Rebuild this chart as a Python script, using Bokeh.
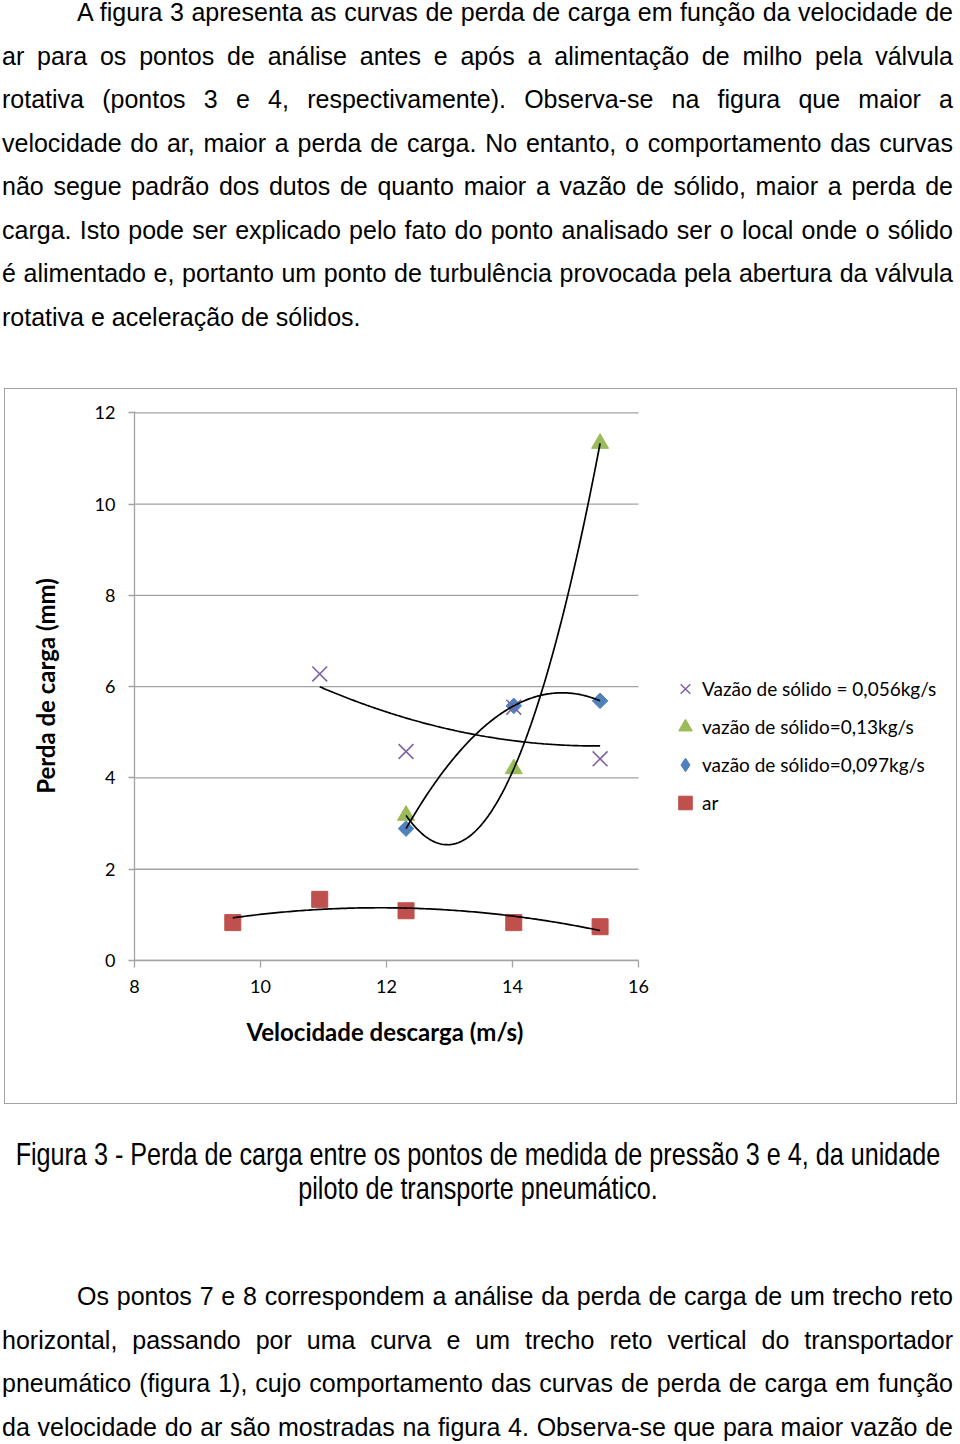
import numpy as np
from bokeh.plotting import figure
from bokeh.models import Range1d, FixedTicker, Legend, LegendItem, Div, Title
from bokeh.layouts import column
from bokeh.embed import file_html
from bokeh.resources import INLINE

# ---------------- data ----------------
vel_056 = [10.94, 12.31, 14.02, 15.39]
perda_056 = [6.28, 4.58, 5.55, 4.42]
vel_013 = [12.31, 14.02, 15.39]
perda_013 = [3.18, 4.20, 11.33]
vel_097 = [12.31, 14.02, 15.39]
perda_097 = [2.89, 5.58, 5.69]
vel_ar = [9.56, 10.94, 12.31, 14.02, 15.39]
perda_ar = [0.83, 1.34, 1.09, 0.83, 0.74]

x_ticks = [8, 10, 12, 14, 16]
y_ticks = [0, 2, 4, 6, 8, 10, 12]

labels = ["Vazão de sólido = 0,056kg/s", "vazão de sólido=0,13kg/s",
          "vazão de sólido=0,097kg/s", "ar"]
x_title = "Velocidade descarga (m/s)"
y_title = "Perda de carga (mm)"

top_lines = [
    "A figura 3 apresenta as curvas de perda de carga em função da velocidade de",
    "ar para os pontos de análise antes e após a alimentação de milho pela válvula",
    "rotativa (pontos 3 e 4, respectivamente). Observa-se na figura que maior a",
    "velocidade do ar, maior a perda de carga. No entanto, o comportamento das curvas",
    "não segue padrão dos dutos de quanto maior a vazão de sólido, maior a perda de",
    "carga. Isto pode ser explicado pelo fato do ponto analisado ser o local onde o sólido",
    "é alimentado e, portanto um ponto de turbulência provocada pela abertura da válvula",
    "rotativa e aceleração de sólidos.",
]
caption_lines = [
    "Figura 3 - Perda de carga entre os pontos de medida de pressão 3 e 4, da unidade",
    "piloto de transporte pneumático.",
]
bottom_lines = [
    "Os pontos 7 e 8 correspondem a análise da perda de carga de um trecho reto",
    "horizontal, passando por uma curva e um trecho reto vertical do transportador",
    "pneumático (figura 1), cujo comportamento das curvas de perda de carga em função",
    "da velocidade do ar são mostradas na figura 4. Observa-se que para maior vazão de",
]

# ---------------- styles ----------------
BODY_FONT = "'Liberation Sans', Arial, sans-serif"
LINE_STEP = 43.57
GRAY = "#a3a3a3"
C_X, C_TRI, C_DIA, C_SQ = "#8064A2", "#9BBB59", "#4F81BD", "#C0504D"
X_VIEW_END = 20.952   # the plotting area reaches under the legend (no axis there)
Y_VIEW_END = 12.03


def paragraph(lines, first_top, indent_first=True, last_justified=False):
    parts = []
    for k, line in enumerate(lines):
        left = 77 if (k == 0 and indent_first) else 2
        width = 953 - left
        last = (k == len(lines) - 1) and not last_justified
        align = "left" if last else "justify"
        parts.append(
            f'<div style="position:absolute;left:{left}px;top:{first_top + k*LINE_STEP:.2f}px;'
            f'width:{width}px;font-family:{BODY_FONT};font-size:25px;line-height:30px;'
            f'color:#000;white-space:nowrap;text-align:{align};text-align-last:{align};">'
            f'{line}</div>')
    return "".join(parts)


top_html = ('<div style="position:relative;width:960px;height:388px;overflow:visible;">'
            + paragraph(top_lines, -3.0) + '</div>')

cap_parts = []
for k, line in enumerate(caption_lines):
    cap_parts.append(
        f'<div style="position:absolute;left:478px;top:{34.9 + k*34:.1f}px;'
        f'white-space:nowrap;font-family:{BODY_FONT};font-size:30.7px;line-height:31px;'
        f'color:#000;transform:translateX(-50%) scaleX(0.82);transform-origin:50% 50%;">'
        f'{line}</div>')
# frame box of the chart (drawn from the block below, reaching up over the chart)
box = (f'<div style="position:absolute;left:4px;top:-716px;width:953px;height:716px;'
       f'box-sizing:border-box;border:1.6px solid {GRAY};pointer-events:none;"></div>')
bottom_html = ('<div style="position:relative;width:960px;height:340px;overflow:visible;">'
               + box + "".join(cap_parts)
               + paragraph(bottom_lines, 177.0, last_justified=True) + '</div>')

div_top = Div(text=top_html, width=960, height=388, margin=0)
div_bottom = Div(text=bottom_html, width=960, height=340, margin=0,
                 styles={"overflow": "visible"})

# ---------------- chart ----------------
p = figure(width=953, height=716, x_range=Range1d(8, X_VIEW_END), y_range=Range1d(0, Y_VIEW_END),
           output_backend="svg", toolbar_location=None,
           min_border_left=130, min_border_right=7, min_border_top=23, min_border_bottom=144)
p.margin = (0, 0, 0, 4)
p.outline_line_color = None
p.background_fill_color = "white"
p.border_fill_color = "white"

p.xaxis.ticker = FixedTicker(ticks=x_ticks)
p.yaxis.ticker = FixedTicker(ticks=y_ticks)
p.xaxis.bounds = (x_ticks[0], x_ticks[-1])
for ax in (p.xaxis[0], p.yaxis[0]):
    ax.axis_line_color = GRAY
    ax.axis_line_width = 1.3
    ax.major_tick_line_color = GRAY
    ax.major_tick_line_width = 1.3
    ax.minor_tick_line_color = None
    ax.major_tick_in = 0
    ax.major_label_text_font = "Lato"
    ax.major_label_text_font_size = "18px"
    ax.major_label_text_color = "#000000"
    ax.axis_label_text_font = "Lato"
    ax.axis_label_text_font_style = "bold"
    ax.axis_label_text_font_size = "24px"
    ax.axis_label_text_color = "#000000"
p.xaxis.major_tick_out = 7
p.yaxis.major_tick_out = 6
p.xaxis.major_label_standoff = 12
p.yaxis.major_label_standoff = 13
p.yaxis.axis_label = y_title
p.yaxis.axis_label_standoff = 32

# x-axis title, centred under the 8..16 axis (the plotting area runs on under the legend)
p.add_layout(Title(text=x_title, align="left", offset=112, standoff=39,
                   text_font="Lato", text_font_style="bold", text_font_size="24px",
                   text_color="#000000"), "below")

# horizontal gridlines, only across the axis extent
p.xgrid.visible = False
p.ygrid.visible = False
p.segment(x0=x_ticks[0], x1=x_ticks[-1], y0=y_ticks, y1=y_ticks,
          line_color=GRAY, line_width=1.3)

# markers
r_sq = p.scatter(vel_ar, perda_ar, marker="square", size=16, fill_color=C_SQ, line_color=C_SQ)
# plain diamond (hidden under the square diamonds) - gives the legend its diamond glyph
r_dia_leg = p.scatter(vel_097, perda_097, marker="diamond", size=12, fill_color=C_DIA, line_color=C_DIA)
r_dia = p.scatter(vel_097, perda_097, marker="square", angle=np.pi / 4, size=11,
                  fill_color=C_DIA, line_color=C_DIA)
r_tri = p.scatter(vel_013, perda_013, marker="triangle", size=17, fill_color=C_TRI, line_color=C_TRI)
r_x = p.scatter(vel_056, perda_056, marker="x", size=21, line_color=C_X, line_width=1.6)


# polynomial (order 2) trendlines, fitted to each series
def trend(xs, ys):
    c = np.polyfit(xs, ys, 2)
    xx = np.linspace(min(xs), max(xs), 150)
    return xx, np.polyval(c, xx)


for xs, ys in ((vel_056, perda_056), (vel_013, perda_013), (vel_097, perda_097), (vel_ar, perda_ar)):
    tx, ty = trend(xs, ys)
    p.line(tx, ty, line_color="black", line_width=1.7)

legend = Legend(items=[LegendItem(label=labels[0], renderers=[r_x]),
                       LegendItem(label=labels[1], renderers=[r_tri]),
                       LegendItem(label=labels[2], renderers=[r_dia_leg]),
                       LegendItem(label=labels[3], renderers=[r_sq])],
                location=(534, 140.5), orientation="vertical",
                glyph_width=34, glyph_height=35, label_height=35, label_standoff=0,
                spacing=3, padding=0, margin=0, border_line_color=None,
                background_fill_alpha=0, label_text_font="Lato",
                label_text_font_size="19px", label_text_color="#000000")
p.add_layout(legend)

page = column(div_top, p, div_bottom, spacing=0, margin=0)

html = file_html(page, INLINE, title="Figura 3")
html = html.replace("<head>", "<head><style>html,body{margin:0;padding:0;}</style>", 1)
open("out.html", "w", encoding="utf-8").write(html)
